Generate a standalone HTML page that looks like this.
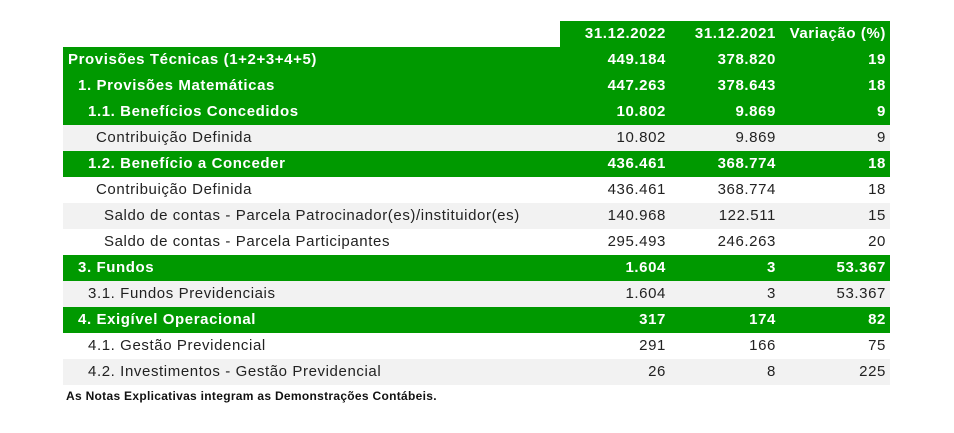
<!DOCTYPE html>
<html><head><meta charset="utf-8"><style>
body{margin:0;width:954px;height:433px;background:#fff;font-family:"Liberation Sans",sans-serif;position:relative;overflow:hidden}
table{position:absolute;left:63px;top:21px;border-collapse:collapse;font-size:15px;letter-spacing:0.6px;color:#222;table-layout:fixed;width:827px}
td{height:26px;padding:0 5px;white-space:nowrap;line-height:26px;box-sizing:border-box;overflow:hidden}
td.n{text-align:right;padding-right:4px}
tr.g td{background:#009900;color:#fff;font-weight:bold}
tr.s td{background:#f2f2f2}
tr.h td.e{background:#fff}
.foot{position:absolute;left:66px;top:389px;font-size:12px;letter-spacing:0.3px;font-weight:bold;color:#111}
</style></head><body>
<table>
<colgroup><col style="width:497px"><col style="width:110px"><col style="width:110px"><col style="width:110px"></colgroup>
<tr class="g h"><td class="l e"></td><td class="n">31.12.2022</td><td class="n">31.12.2021</td><td class="n">Variação (%)</td></tr>
<tr class="g"><td class="l">Provisões Técnicas (1+2+3+4+5)</td><td class="n">449.184</td><td class="n">378.820</td><td class="n">19</td></tr>
<tr class="g"><td class="l" style="padding-left:15px">1. Provisões Matemáticas</td><td class="n">447.263</td><td class="n">378.643</td><td class="n">18</td></tr>
<tr class="g"><td class="l" style="padding-left:25px">1.1. Benefícios Concedidos</td><td class="n">10.802</td><td class="n">9.869</td><td class="n">9</td></tr>
<tr class="s"><td class="l" style="padding-left:33px">Contribuição Definida</td><td class="n">10.802</td><td class="n">9.869</td><td class="n">9</td></tr>
<tr class="g"><td class="l" style="padding-left:25px">1.2. Benefício a Conceder</td><td class="n">436.461</td><td class="n">368.774</td><td class="n">18</td></tr>
<tr><td class="l" style="padding-left:33px">Contribuição Definida</td><td class="n">436.461</td><td class="n">368.774</td><td class="n">18</td></tr>
<tr class="s"><td class="l" style="padding-left:41px">Saldo de contas - Parcela Patrocinador(es)/instituidor(es)</td><td class="n">140.968</td><td class="n">122.511</td><td class="n">15</td></tr>
<tr><td class="l" style="padding-left:41px">Saldo de contas - Parcela Participantes</td><td class="n">295.493</td><td class="n">246.263</td><td class="n">20</td></tr>
<tr class="g"><td class="l" style="padding-left:15px">3. Fundos</td><td class="n">1.604</td><td class="n">3</td><td class="n">53.367</td></tr>
<tr class="s"><td class="l" style="padding-left:25px">3.1. Fundos Previdenciais</td><td class="n">1.604</td><td class="n">3</td><td class="n">53.367</td></tr>
<tr class="g"><td class="l" style="padding-left:15px">4. Exigível Operacional</td><td class="n">317</td><td class="n">174</td><td class="n">82</td></tr>
<tr><td class="l" style="padding-left:25px">4.1. Gestão Previdencial</td><td class="n">291</td><td class="n">166</td><td class="n">75</td></tr>
<tr class="s"><td class="l" style="padding-left:25px">4.2. Investimentos - Gestão Previdencial</td><td class="n">26</td><td class="n">8</td><td class="n">225</td></tr>
</table>
<div class="foot">As Notas Explicativas integram as Demonstrações Contábeis.</div>
</body></html>
